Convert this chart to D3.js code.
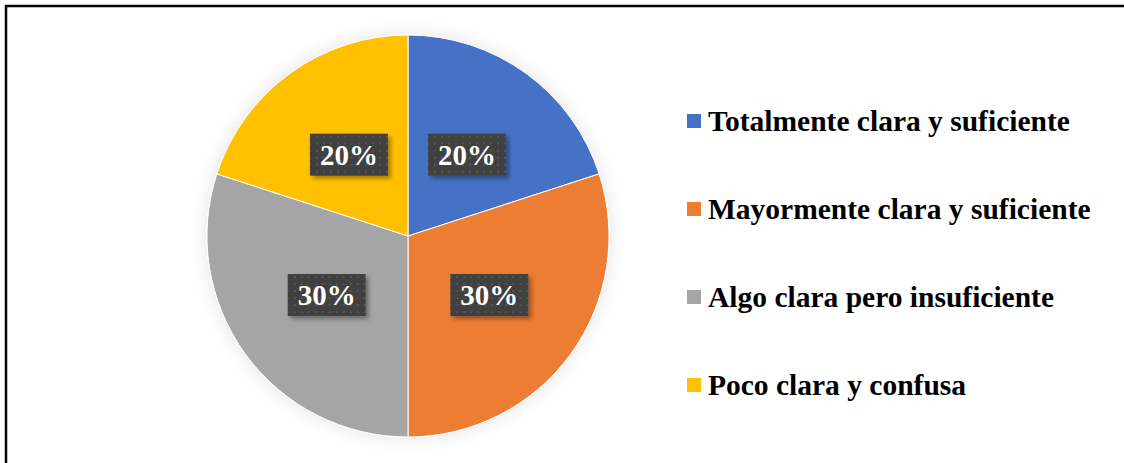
<!DOCTYPE html>
<html>
<head>
<meta charset="utf-8">
<script src="https://cdn.jsdelivr.net/npm/d3@7"></script>
<style>
  body { margin: 0; background: #fff; }
  svg { display: block; }
</style>
</head>
<body>
<div id="chart"></div>
<script>
// Claridad de la información - pie chart
const categories = ["Totalmente clara y suficiente", "Mayormente clara y suficiente", "Algo clara pero insuficiente", "Poco clara y confusa"];
const values = [20, 30, 30, 20];
const colors = ["#4472C4", "#ED7D31", "#A5A5A5", "#FFC000"];

const width = 1124;
const height = 463;
const cx = 408, cy = 236, radius = 201;

const svg = d3.select("#chart").append("svg")
    .attr("width", width)
    .attr("height", height);

const defs = svg.append("defs");

// soft glow around the pie
const glow = defs.append("filter")
    .attr("id", "glow")
    .attr("x", "-20%").attr("y", "-20%")
    .attr("width", "140%").attr("height", "140%");
glow.append("feGaussianBlur").attr("in", "SourceAlpha").attr("stdDeviation", 8).attr("result", "blur");
glow.append("feFlood").attr("flood-color", "#000").attr("flood-opacity", 0.12);
glow.append("feComposite").attr("in2", "blur").attr("operator", "in").attr("result", "shadow");
const gm = glow.append("feMerge");
gm.append("feMergeNode").attr("in", "shadow");
gm.append("feMergeNode").attr("in", "SourceGraphic");

// dotted dark texture for the labels
const pat = defs.append("pattern")
    .attr("id", "dots")
    .attr("width", 7).attr("height", 7)
    .attr("patternUnits", "userSpaceOnUse");
pat.append("rect").attr("width", 7).attr("height", 7).attr("fill", "#3f3f3f");
pat.append("rect").attr("x", 2).attr("y", 2).attr("width", 2).attr("height", 2).attr("fill", "#555");

const boxShadow = defs.append("filter")
    .attr("id", "boxShadow")
    .attr("x", "-20%").attr("y", "-20%")
    .attr("width", "150%").attr("height", "160%");
boxShadow.append("feDropShadow")
    .attr("dx", 3).attr("dy", 3)
    .attr("stdDeviation", 2)
    .attr("flood-color", "#000")
    .attr("flood-opacity", 0.35);

// frame
svg.append("path")
    .attr("d", `M6,${height} V6 H${width}`)
    .attr("fill", "none")
    .attr("stroke", "#000")
    .attr("stroke-width", 2.5);

const pie = d3.pie().sort(null).value(d => d);
const arcs = pie(values);

const arc = d3.arc().innerRadius(0).outerRadius(radius);
const labelArc = d3.arc().innerRadius(radius * 0.5).outerRadius(radius * 0.5);

const g = svg.append("g")
    .attr("transform", `translate(${cx},${cy})`);

g.append("g")
    .attr("filter", "url(#glow)")
    .selectAll("path")
    .data(arcs)
    .enter()
    .append("path")
    .attr("d", arc)
    .attr("fill", (d, i) => colors[i])
    .attr("stroke", "#fff")
    .attr("stroke-width", 1);

const boxW = 78, boxH = 42;
const labels = g.selectAll("g.lbl")
    .data(arcs)
    .enter()
    .append("g")
    .attr("class", "lbl")
    .attr("transform", d => {
        const [x, y] = labelArc.centroid(d);
        return `translate(${x},${y})`;
    });

labels.append("rect")
    .attr("x", -boxW / 2)
    .attr("y", -boxH / 2)
    .attr("width", boxW)
    .attr("height", boxH)
    .attr("fill", "url(#dots)")
    .attr("filter", "url(#boxShadow)");

labels.append("text")
    .attr("text-anchor", "middle")
    .attr("dy", "0.35em")
    .style("font-family", "'Liberation Serif', 'Times New Roman', serif")
    .style("font-weight", "bold")
    .style("font-size", "29px")
    .style("fill", "#fff")
    .text(d => d.data + "%");

// legend
const legend = svg.append("g")
    .attr("transform", "translate(687,121)");

const rows = legend.selectAll("g")
    .data(categories)
    .enter()
    .append("g")
    .attr("transform", (d, i) => `translate(0,${i * 88})`);

rows.append("rect")
    .attr("x", 0)
    .attr("y", -7)
    .attr("width", 14)
    .attr("height", 14)
    .attr("fill", (d, i) => colors[i]);

rows.append("text")
    .attr("x", 21)
    .attr("y", 10)
    .style("font-family", "'Liberation Serif', 'Times New Roman', serif")
    .style("font-weight", "bold")
    .style("font-size", "29.5px")
    .style("fill", "#000")
    .text(d => d);
</script>
</body>
</html>
